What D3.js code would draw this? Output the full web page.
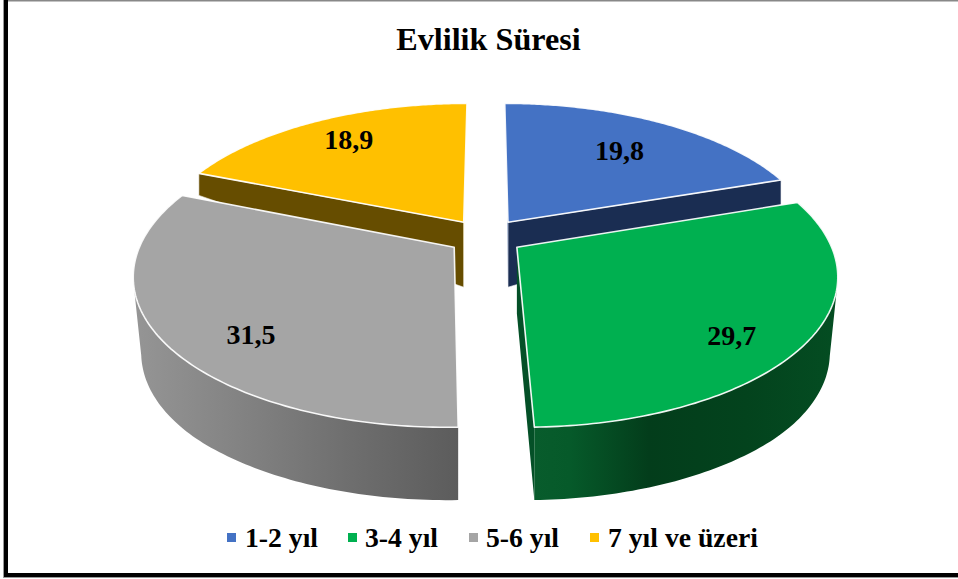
<!DOCTYPE html>
<html>
<head>
<meta charset="utf-8">
<script src="https://cdn.jsdelivr.net/npm/d3@7"></script>
<style>
html,body{margin:0;padding:0;background:#fff;}
svg{display:block;}
text{font-family:"Liberation Serif",serif;font-weight:bold;fill:#000;}
</style>
</head>
<body>
<svg id="c" width="958" height="579"></svg>
<script>
const title = "Evlilik Süresi";
const categories = ["1-2 yıl", "3-4 yıl", "5-6 yıl", "7 yıl ve üzeri"];
const values = [19.8, 29.7, 31.5, 18.9];
const valueLabels = ["19,8", "29,7", "31,5", "18,9"];
const topColors = ["#4472C4", "#00B050", "#A5A5A5", "#FFC000"];
const wallColors = ["#1A2D52", "#014A20", "#707070", "#664D00"];

// layout of the exploded pie, in units of the pie radius on the ground plane
const explodeX = [0.072, 0.098, -0.101, -0.073];
const explodeY = [0.087, -0.087, -0.087, 0.087];
const labelRadius = [0.70, 0.812, 0.785, 0.786];
const labelFraction = [0.5, 0.562, 0.429, 0.516];
const legendMarkerX = [227, 348, 469, 590];
const legendTextX = [245, 365, 486, 608];

const svg = d3.select("#c");
const defs = svg.append("defs");

const cx = 486, cy = 234.5, rx = 310, ry = 143.6, persp = 0.175;
const project = (X, Y) => {
  const w = 1 + persp * Y;
  return [cx + rx * X / w, cy - ry * Y / w];
};
const wallHeight = d3.scaleLinear().domain([-1.1, 0.087, 0.45]).range([73, 65, 22]).clamp(true);

const groundPoint = (i, angle, r) => [
  explodeX[i] + r * Math.sin(angle),
  explodeY[i] + r * Math.cos(angle)
];
const topPoint = (i, angle, r) => {
  const g = groundPoint(i, angle, r);
  return project(g[0], g[1]);
};
const bottomPoint = (i, angle, r) => {
  const g = groundPoint(i, angle, r);
  const p = project(g[0], g[1]);
  // side walls lean inwards around the widest part of the pie
  const side = Math.abs(g[0]) > 0.5 && g[1] < 0 ? 0.975 + 0.025 * Math.min(1, Math.max(0, (-g[1] - 0.25) / 0.55)) : 1;
  // near the back the short seam walls lean slightly outwards
  const back = Math.abs(p[0] - cx) < 60 && g[1] > 0.5 ? 1.12 : 1;
  return [cx + (p[0] - cx) * side * back, p[1] + wallHeight(g[1])];
};

const pie = d3.pie().sort(null).startAngle(0).endAngle(2 * Math.PI);
const arcs = pie(values);
const line = d3.line();
const arcAngles = a => d3.range(0, 121).map(k => a.startAngle + (a.endAngle - a.startAngle) * k / 120);

const grad = (id, x1, x2, stops) => {
  const g = defs.append("linearGradient").attr("id", id)
    .attr("gradientUnits", "userSpaceOnUse")
    .attr("x1", x1).attr("x2", x2).attr("y1", 0).attr("y2", 0);
  stops.forEach(s => g.append("stop").attr("offset", s[0]).attr("stop-color", s[1]));
};
grad("grayWall", 135, 459, [[0, "#959595"], [0.3, "#848484"], [0.65, "#6f6f6f"], [1, "#5c5c5c"]]);
grad("greenWall", 533, 838, [[0, "#085C2C"], [0.12, "#065A2A"], [0.38, "#033D1B"], [0.7, "#03431D"], [1, "#044D22"]]);

const facePath = i => {
  const a = arcs[i];
  return line([topPoint(i, 0, 0), ...arcAngles(a).map(t => topPoint(i, t, 1))]) + "Z";
};
// the outer wall is the union of the little quads swept between top and bottom rim
const outerWall = i => {
  const ang = arcAngles(arcs[i]);
  return d3.range(ang.length - 1).map(k => {
    const a = ang[k], b = ang[k + 1];
    const quad = [topPoint(i, a, 1), topPoint(i, b, 1), bottomPoint(i, b, 1), bottomPoint(i, a, 1)];
    if (d3.polygonArea(quad) < 0) quad.reverse();
    return line(quad) + "Z";
  }).join("");
};
const radialWall = (i, t) =>
  line([topPoint(i, t, 0), topPoint(i, t, 1), bottomPoint(i, t, 1), bottomPoint(i, t, 0)]) + "Z";

const g = svg.append("g");
const wall = (d, fill) => g.append("path").attr("d", d).attr("fill", fill);
const face = i => g.append("path").attr("d", facePath(i)).attr("fill", topColors[i])
  .attr("stroke", "#fff").attr("stroke-opacity", 0.92).attr("stroke-width", 1.6).attr("stroke-linejoin", "round");

// back slices
wall(radialWall(3, arcs[3].startAngle), wallColors[3]).attr("stroke", "#fff").attr("stroke-width", 0.6);
wall(radialWall(3, arcs[3].endAngle), "#F2D98C");
face(3);
wall(radialWall(0, arcs[0].endAngle), wallColors[0]).attr("stroke", "#fff").attr("stroke-width", 0.6);
wall(radialWall(0, arcs[0].startAngle), "#3A5F9E");
face(0);

// front slices
wall(radialWall(1, arcs[1].endAngle), "#045027");
wall(outerWall(1), "url(#greenWall)");
face(1);
wall(outerWall(2), "url(#grayWall)");
face(2);

// value labels
arcs.forEach((a, i) => {
  const t = a.startAngle + (a.endAngle - a.startAngle) * labelFraction[i];
  const p = topPoint(i, t, labelRadius[i]);
  svg.append("text").attr("x", p[0]).attr("y", p[1])
    .attr("text-anchor", "middle").attr("dominant-baseline", "central")
    .attr("font-size", 28).text(valueLabels[i]);
});

// title
svg.append("text").attr("x", 488.5).attr("y", 50).attr("text-anchor", "middle")
  .attr("font-size", 32.2).text(title);

// legend
categories.forEach((c, i) => {
  svg.append("rect").attr("x", legendMarkerX[i]).attr("y", 533).attr("width", 9).attr("height", 9)
    .attr("fill", topColors[i]);
  svg.append("text").attr("x", legendTextX[i]).attr("y", 546.5).attr("font-size", 27.7).text(c);
});

// frame
svg.append("rect").attr("x", 3).attr("y", 0).attr("width", 1).attr("height", 577).attr("fill", "#999");
svg.append("rect").attr("x", 4).attr("y", 0).attr("width", 4).attr("height", 577).attr("fill", "#000");
svg.append("rect").attr("x", 8).attr("y", 0).attr("width", 950).attr("height", 1.5).attr("fill", "#888");
svg.append("rect").attr("x", 4).attr("y", 573).attr("width", 954).attr("height", 4).attr("fill", "#000");
svg.append("rect").attr("x", 3).attr("y", 577).attr("width", 955).attr("height", 1).attr("fill", "#999");
</script>
</body>
</html>
